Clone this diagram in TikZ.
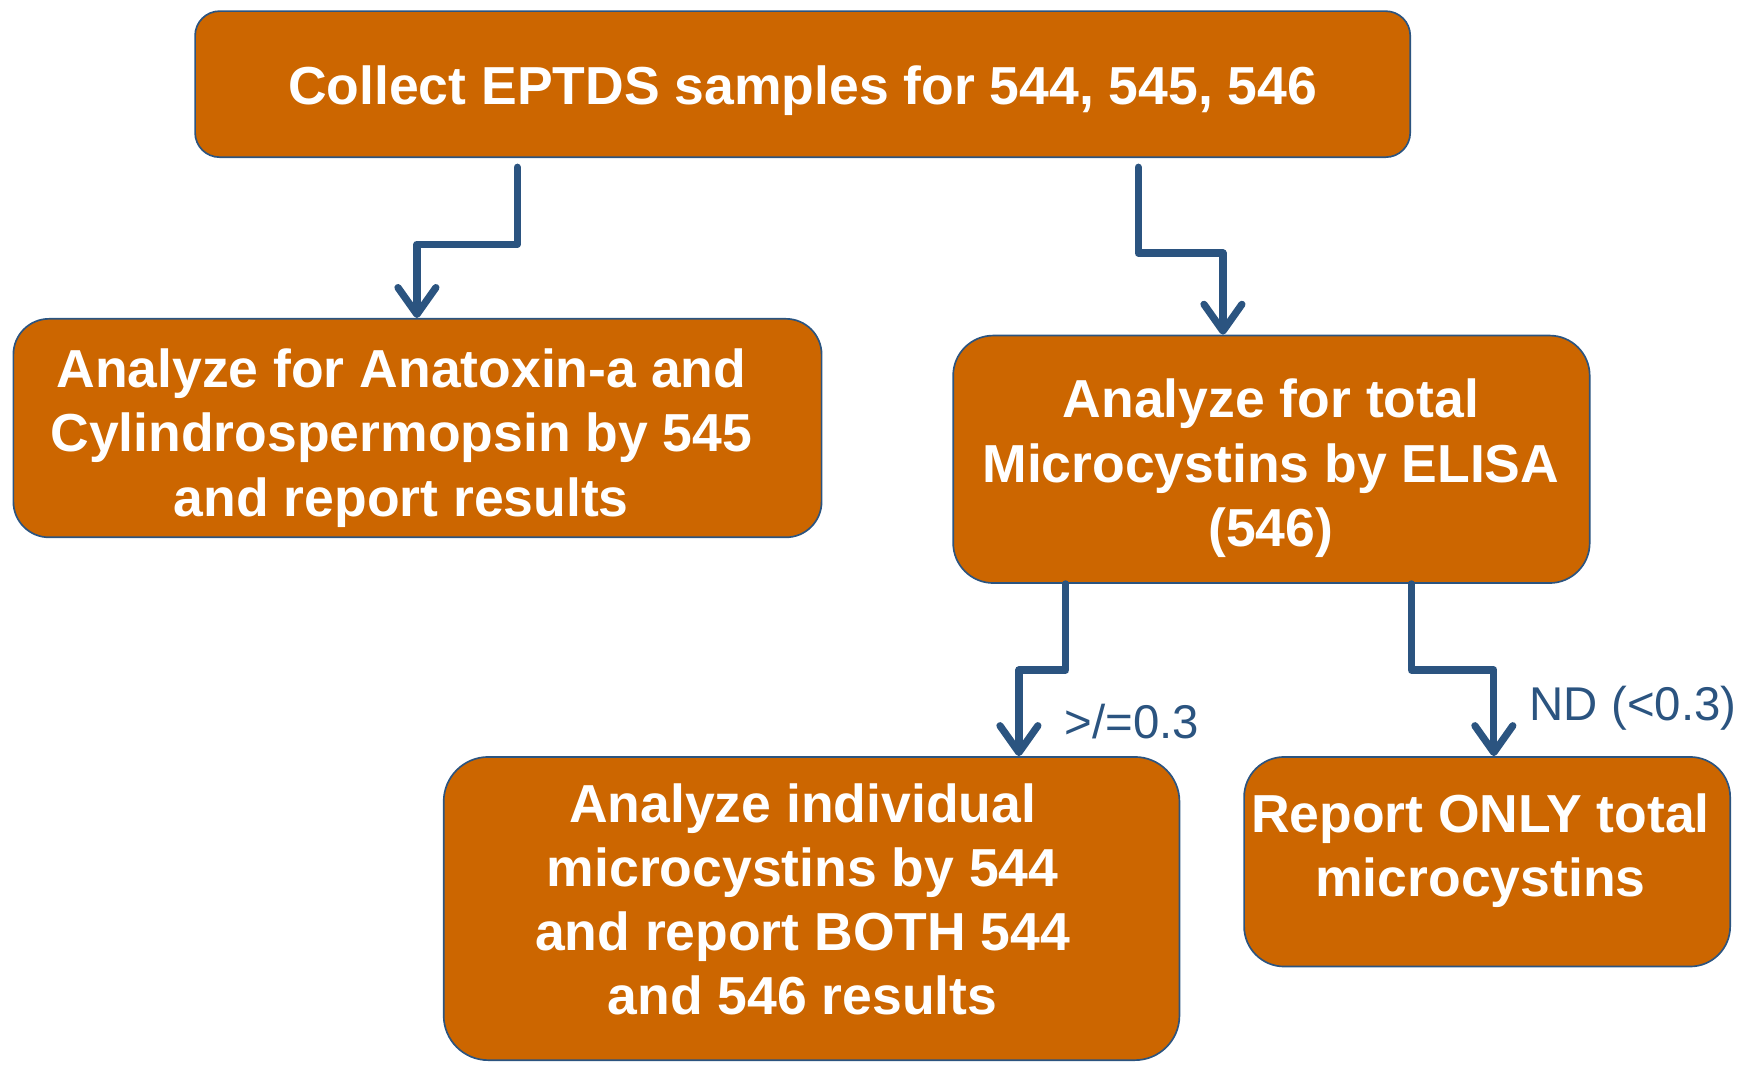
\documentclass[tikz,border=0pt]{standalone}
\usepackage{fontspec}
\setmainfont{Liberation Sans}
\usetikzlibrary{arrows.meta,calc}
\definecolor{boxfill}{HTML}{CC6600}
\definecolor{edgeblue}{HTML}{2B5480}
\begin{document}
\begin{tikzpicture}[x=1pt,y=-1pt,
  box/.style={draw=edgeblue, line width=1.5pt, fill=boxfill, rounded corners=#1, inner sep=0pt},
  boxtext/.style={text=white, font=\bfseries\fontsize{48}{57.5}\selectfont, align=center, inner sep=0pt},
  conn/.style={draw=edgeblue, line width=6.5pt, line join=round, line cap=round,
    -{Straight Barb[round,length=24pt,width=34pt]}},
  lbl/.style={text=edgeblue, font=\fontsize{42.5}{50}\selectfont, anchor=west, inner sep=0pt}]
\useasboundingbox (0,0) rectangle (1568,957);
% boxes
\node[box=22pt, minimum width=1090pt, minimum height=131pt] (top) at (720,75.5) {};
\node[box=32pt, minimum width=725pt, minimum height=196pt] (left) at (374.5,384) {};
\node[box=36pt, minimum width=571pt, minimum height=222pt] (right) at (1140.5,412) {};
\node[box=40pt, minimum width=660pt, minimum height=272pt] (bl) at (728,815) {};
\node[box=36pt, minimum width=436pt, minimum height=188pt] (br) at (1334,773) {};
% texts
\node[boxtext] (ttop) at (720,81) {Collect EPTDS samples for 544, 545, 546};
\node[boxtext] (tleft) at (360,393) {Analyze for Anatoxin-a and\\Cylindrospermopsin by 545\\and report results};
\node[boxtext] (tright) at (1140,420) {Analyze for total\\Microcystins by ELISA\\(546)};
\node[boxtext] (tbl) at (720,807) {Analyze individual\\microcystins by 544\\and report BOTH 544\\and 546 results};
\node[boxtext] (tbr) at (1328,763) {Report ONLY total\\microcystins};
% connectors
\coordinate (s1) at (464,150);
\coordinate (s2) at (1021,150);
\draw[conn] (s1) -- (464,219) -- (374,219) -- (left.north -| 374,0);
\draw[conn] (s2) -- (1021,227) -- (1097,227) -- (right.north -| 1097,0);
\draw[conn] (right.south -| 956,0) -- (956,601) -- (914,601) -- (bl.north -| 914,0);
\draw[conn] (right.south -| 1266,0) -- (1266,601) -- (1340,601) -- (br.north -| 1340,0);
% labels
\node[lbl] (l1) at (955,647) {>/=0.3};
\node[lbl] (l2) at (1372,635) {ND (<0.3)};
\end{tikzpicture}
\end{document}
